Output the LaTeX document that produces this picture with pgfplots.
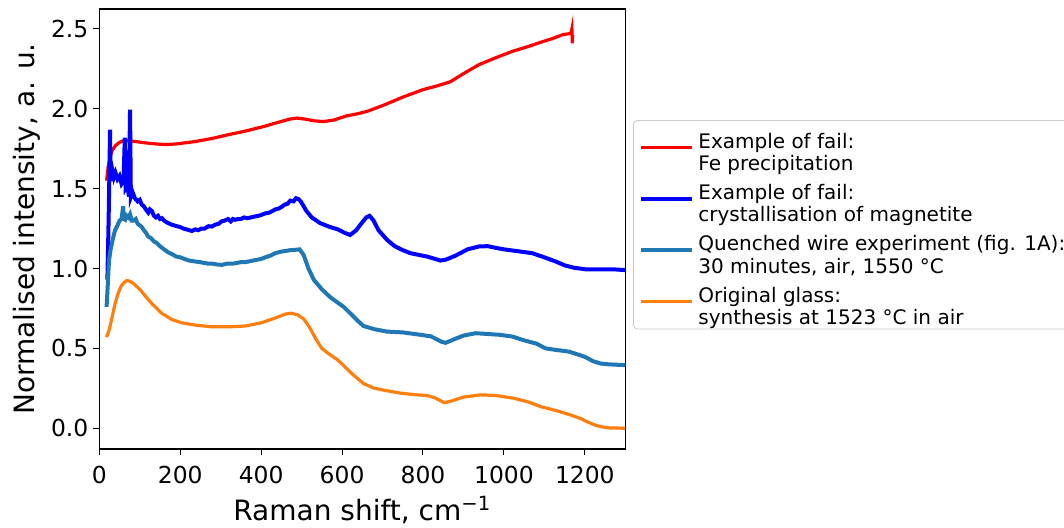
\documentclass[border=0pt]{standalone}
\usepackage{fontspec}
\setmainfont{DejaVu Sans}
\usepackage{pgfplots}
\pgfplotsset{compat=1.18}
\definecolor{cred}{RGB}{255,0,0}
\definecolor{cblue}{RGB}{0,0,255}
\definecolor{cteal}{HTML}{1F77B4}
\definecolor{corange}{HTML}{FF7F0E}
\newcommand{\two}[2]{\begin{tabular}{@{}l@{}}#1\\#2\end{tabular}}
\begin{document}
\begin{tikzpicture}
\begin{axis}[
  name=ax,
  scale only axis,
  width=263pt, height=220pt,
  xmin=0, xmax=1300, ymin=-0.13, ymax=2.625,
  xtick={0,200,...,1200},
  ytick={0,0.5,...,2.5},
  tick align=outside, tick pos=left,
  major tick length=3pt,
  every tick/.style={black, line width=0.5pt},
  axis line style={black, line width=0.6pt},
  /pgf/number format/assume math mode=true,
  /pgf/number format/1000 sep={},
  ticklabel style={font=\fontsize{11.7}{13}\selectfont},
  yticklabel style={xshift=1pt,/pgf/number format/.cd,fixed,fixed zerofill,precision=1},
  xticklabel style={yshift=-2pt},
  xlabel={Raman shift, cm\textsuperscript{−1}},
  ylabel={Normalised intensity, a. u.},
  label style={font=\fontsize{14}{16}\selectfont},
  xlabel style={at={(axis description cs:0.5,-0.1636)}, anchor=base},
  ylabel style={at={(axis description cs:-0.1375,0.5)}, anchor=center},
  legend style={at={(1.0146,0.7477)}, anchor=north west,
    draw=black!20, rounded corners=2pt,
    font=\fontsize{10}{11.2}\selectfont,
    row sep=6.5pt, inner xsep=3pt, inner ysep=4pt,
    cells={anchor=west}},
  legend image code/.code={\path (0pt,0pt) -- (25.5pt,0pt); \draw[#1, line width=1.3pt] (0pt,0pt) -- (21pt,0pt);},
  legend cell align=left,
]
\addplot[cred, line width=1.6pt] coordinates {
(18,1.55) (22,1.64) (27,1.70) (32,1.74) (40,1.77) (50,1.79) (60,1.80) (72,1.80) (90,1.795)
(113,1.787) (140,1.78) (163,1.776) (190,1.78) (237,1.795) (280,1.815) (319,1.838) (360,1.86)
(400,1.885) (435,1.91) (470,1.935) (488,1.942) (510,1.935) (530,1.925) (554,1.92) (580,1.93)
(610,1.955) (640,1.97) (662,1.984) (700,2.02) (752,2.075) (800,2.12) (830,2.14) (856,2.16)
(868,2.17) (900,2.22) (938,2.276) (980,2.32) (1021,2.36) (1060,2.39) (1095,2.42) (1120,2.44)
(1145,2.464) (1160,2.47) (1166,2.475) (1168,2.50) (1169,2.41) (1170,2.46)
};
\addlegendentry{\two{Example of fail:}{Fe precipitation}}
\addplot[cblue, line width=2pt] coordinates {
(20,0.93) (23,1.30) (25,1.60) (26.5,1.87) (28,1.55) (32,1.62) (36,1.57) (40,1.60) (45,1.56)
(50,1.58) (55,1.53) (60,1.55) (63,1.82) (65,1.50) (70,1.52) (73,1.45) (76,1.995) (78,1.45)
(82,1.48) (88,1.44) (95,1.42) (100,1.43) (105,1.40) (110,1.39) (115,1.37) (121,1.35) (125,1.37) (130,1.36) (135,1.33) (140,1.32) (145,1.33) (150,1.31)
(155,1.315) (160,1.30) (166,1.29) (171,1.284) (178,1.275) (185,1.27) (192,1.265) (200,1.26) (208,1.25) (215,1.245) (222,1.24) (229,1.235) (237,1.245) (245,1.24) (252,1.25) (260,1.25)
(270,1.265) (278,1.263) (287,1.275) (295,1.28) (302,1.295) (310,1.30) (318,1.31) (325,1.295) (330,1.31) (336,1.305) (343,1.31) (350,1.31) (358,1.32) (365,1.315) (375,1.32) (385,1.326)
(393,1.33) (400,1.335) (410,1.345) (420,1.35) (428,1.36) (435,1.37) (443,1.375) (450,1.385) (458,1.40) (465,1.405) (472,1.425) (480,1.42) (486,1.44) (492,1.435) (498,1.42)
(505,1.39) (512,1.36) (525,1.32) (546,1.284) (570,1.26) (590,1.245) (605,1.225) (620,1.21) (635,1.24)
(650,1.29) (660,1.32) (668,1.33) (678,1.30) (690,1.24) (711,1.18) (730,1.14) (750,1.115) (769,1.096)
(790,1.085) (810,1.075) (830,1.06) (843,1.05) (856,1.055) (880,1.08) (910,1.12) (938,1.138) (960,1.14)
(979,1.13) (1000,1.12) (1030,1.11) (1070,1.096) (1100,1.07) (1128,1.044) (1150,1.02)
(1173,1.005) (1202,0.995) (1240,0.995) (1270,0.995) (1300,0.99)
};
\addlegendentry{\two{Example of fail:}{crystallisation of magnetite}}
\addplot[cteal, line width=2pt] coordinates {
(18,0.76) (21,0.90) (24,1.05) (28,1.12) (33,1.18) (39,1.24) (45,1.27) (50,1.30) (55,1.31)
(59,1.39) (61,1.31) (64,1.305) (68,1.33) (72,1.32) (76,1.34) (80,1.30) (85,1.30) (90,1.31)
(95,1.28) (100,1.27) (105,1.26) (110,1.24) (115,1.225) (121,1.20) (128,1.19) (135,1.17) (142,1.16) (150,1.14) (160,1.12) (171,1.10) (180,1.09) (190,1.075)
(200,1.07) (210,1.06) (222,1.05) (237,1.044) (248,1.04) (260,1.035) (270,1.03) (280,1.03) (292,1.025) (303,1.023) (315,1.03) (330,1.03) (340,1.035) (350,1.04) (360,1.04) (369,1.044)
(380,1.05) (390,1.055) (400,1.06) (410,1.07) (422,1.08) (435,1.096) (448,1.105) (460,1.11) (472,1.115) (484,1.117) (495,1.12) (505,1.085) (517,1.00)
(530,0.93) (550,0.87) (571,0.82) (590,0.785) (604,0.76) (620,0.72) (640,0.67) (653,0.64)
(680,0.62) (711,0.605) (750,0.60) (794,0.585) (820,0.575) (847,0.54) (856,0.535) (880,0.56)
(900,0.58) (930,0.595) (960,0.59) (990,0.585) (1021,0.574) (1050,0.55) (1080,0.53) (1103,0.50)
(1130,0.49) (1160,0.48) (1185,0.46) (1202,0.445) (1220,0.42) (1239,0.405) (1260,0.40) (1300,0.395)
};
\addlegendentry{\two{Quenched wire experiment (fig. 1A):}{30 minutes, air, 1550 °C}}
\addplot[corange, line width=1.6pt] coordinates {
(18,0.57) (25,0.62) (32,0.70) (39,0.78) (46,0.84) (53,0.885) (60,0.91) (68,0.925) (76,0.92)
(85,0.905) (100,0.87) (113,0.83) (130,0.78) (154,0.72) (180,0.68) (204,0.66) (240,0.645)
(278,0.635) (320,0.635) (361,0.64) (400,0.66) (435,0.69) (460,0.715) (475,0.72) (490,0.71)
(505,0.685) (520,0.63) (535,0.56) (550,0.50) (565,0.47) (588,0.43) (605,0.39) (625,0.34)
(653,0.28) (680,0.25) (710,0.235) (744,0.22) (780,0.21) (810,0.205) (830,0.19) (852,0.16)
(870,0.17) (900,0.195) (942,0.209) (980,0.205) (1024,0.188) (1060,0.165) (1091,0.135)
(1130,0.11) (1165,0.083) (1190,0.06) (1206,0.04) (1225,0.02) (1239,0.01) (1260,0.002) (1300,0.0)
};
\addlegendentry{\two{Original glass:}{synthesis at 1523 °C in air}}
\end{axis}
\pgfresetboundingbox
\path[use as bounding box] ([xshift=-49.65pt,yshift=-39.5pt]ax.south west) rectangle ([xshift=482.35pt,yshift=224.5pt]ax.south west);
\end{tikzpicture}
\end{document}
